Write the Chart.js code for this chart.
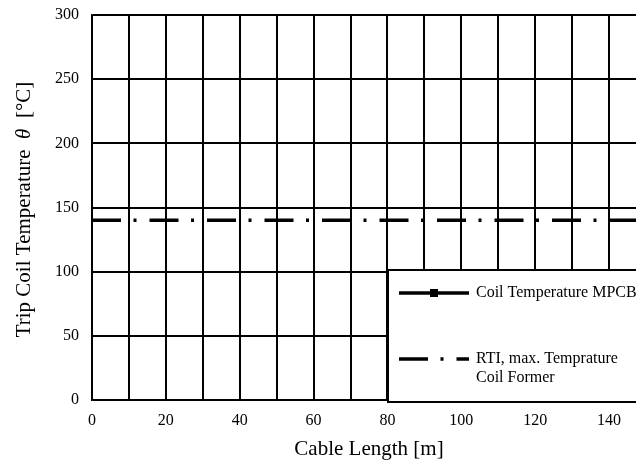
<!DOCTYPE html>
<html>
<head>
<meta charset="utf-8">
<script src="https://cdn.jsdelivr.net/npm/chart.js@4"></script>
<style>
  html, body { margin: 0; padding: 0; background: #fff; overflow: hidden; }
  #wrap { width: 636px; height: 461px; overflow: hidden; }
</style>
</head>
<body>
<div id="wrap"><canvas id="coilChart" width="660" height="461"></canvas></div>
<script>
// cable length range [m] and temperatures [°C]
const cableLength = [0, 150];
const coilTempMPCB = [];          // no points inside 0..300 °C
const rtiLimit = [140, 140];      // RTI, max. temperature of coil former
const xTickLabels = [0, 20, 40, 60, 80, 100, 120, 140];
const yTickLabels = [0, 50, 100, 150, 200, 250, 300];

const serif = '"Liberation Serif", "Times New Roman", serif';
const rtiDash = [29, 12.5, 3, 13];

const toPoints = (xs, ys) => ys.map((y, i) => ({ x: xs[i], y: y }));

// axis titles and the boxed legend, drawn on top of the plot
const overlay = {
    id: 'overlay',
    afterDraw(chart) {
        const ctx = chart.ctx;
        const a = chart.chartArea;
        ctx.save();
        ctx.fillStyle = '#000';
        ctx.textBaseline = 'middle';

        // x title
        ctx.font = '21px ' + serif;
        ctx.textAlign = 'center';
        ctx.fillText('Cable Length [m]', (a.left + a.right) / 2, 449);

        // y title with italic theta
        const parts = [
            ['Trip Coil Temperature  ', '21px ' + serif],
            ['\u03B8', 'italic 21px ' + serif],
            ['  [°C]', '21px ' + serif]
        ];
        let total = 0;
        parts.forEach(p => { ctx.font = p[1]; total += ctx.measureText(p[0]).width; });
        ctx.translate(24, (a.top + a.bottom) / 2 + 2);
        ctx.rotate(-Math.PI / 2);
        ctx.textAlign = 'left';
        let px = -total / 2;
        parts.forEach(p => { ctx.font = p[1]; ctx.fillText(p[0], px, 0); px += ctx.measureText(p[0]).width; });
        ctx.restore();

        // legend box
        ctx.save();
        const lx = a.left + 296, ly = 270;
        ctx.fillStyle = '#fff';
        ctx.fillRect(lx, ly, 320, 132);
        ctx.strokeStyle = '#000';
        ctx.lineWidth = 2;
        ctx.strokeRect(lx, ly, 320, 132);

        const ds = chart.data.datasets;
        const sx = lx + 11, ex = lx + 81;

        // solid line with square marker
        ctx.lineWidth = ds[0].borderWidth;
        ctx.setLineDash([]);
        ctx.beginPath();
        ctx.moveTo(sx, 293); ctx.lineTo(ex, 293);
        ctx.stroke();
        ctx.fillStyle = '#000';
        ctx.fillRect((sx + ex) / 2 - 4, 289, 8, 8);

        // dash-dot line
        ctx.lineWidth = ds[1].borderWidth;
        ctx.setLineDash(ds[1].borderDash);
        ctx.beginPath();
        ctx.moveTo(sx, 359); ctx.lineTo(ex, 359);
        ctx.stroke();

        ctx.font = '16px ' + serif;
        ctx.textAlign = 'left';
        ctx.textBaseline = 'middle';
        ctx.fillText(ds[0].label, ex + 7, 293);
        ctx.fillText('RTI, max. Temprature', ex + 7, 359);
        ctx.fillText('Coil Former', ex + 7, 378);
        ctx.restore();
    }
};

new Chart(document.getElementById('coilChart'), {
    type: 'scatter',
    data: {
        datasets: [{
            label: 'Coil Temperature MPCB',
            data: toPoints(cableLength, coilTempMPCB),
            showLine: true,
            borderColor: '#000',
            backgroundColor: '#000',
            borderWidth: 3.5,
            pointStyle: 'rect',
            pointRadius: 4
        }, {
            label: 'RTI, max. Temprature Coil Former',
            data: toPoints(cableLength, rtiLimit),
            showLine: true,
            borderColor: '#000',
            borderWidth: 3.5,
            borderDash: rtiDash,
            pointRadius: 0
        }]
    },
    options: {
        responsive: false,
        animation: false,
        layout: { padding: { left: 0, top: 15, right: 14, bottom: 0 } },
        plugins: {
            legend: { display: false },
            tooltip: { enabled: false }
        },
        scales: {
            x: {
                type: 'linear',
                min: 0,
                max: 150,
                afterFit: s => { s.height = 61; s.paddingLeft = 0; s.paddingRight = 0; },
                grid: { color: '#000', lineWidth: 2, drawTicks: false },
                border: { color: '#000', width: 1.5 },
                ticks: {
                    stepSize: 10,
                    autoSkip: false,
                    maxRotation: 0,
                    padding: 11,
                    color: '#000',
                    font: { family: serif, size: 16 },
                    callback: v => xTickLabels.includes(v) ? v : ''
                }
            },
            y: {
                min: 0,
                max: 300,
                afterFit: s => { s.width = 92; s.paddingTop = 0; s.paddingBottom = 0; },
                grid: { color: '#000', lineWidth: 2, drawTicks: false },
                border: { color: '#000', width: 1.5 },
                ticks: {
                    stepSize: 50,
                    padding: 13,
                    color: '#000',
                    font: { family: serif, size: 16 },
                    callback: v => yTickLabels.includes(v) ? v : ''
                }
            }
        }
    },
    plugins: [overlay]
});
</script>
</body>
</html>
